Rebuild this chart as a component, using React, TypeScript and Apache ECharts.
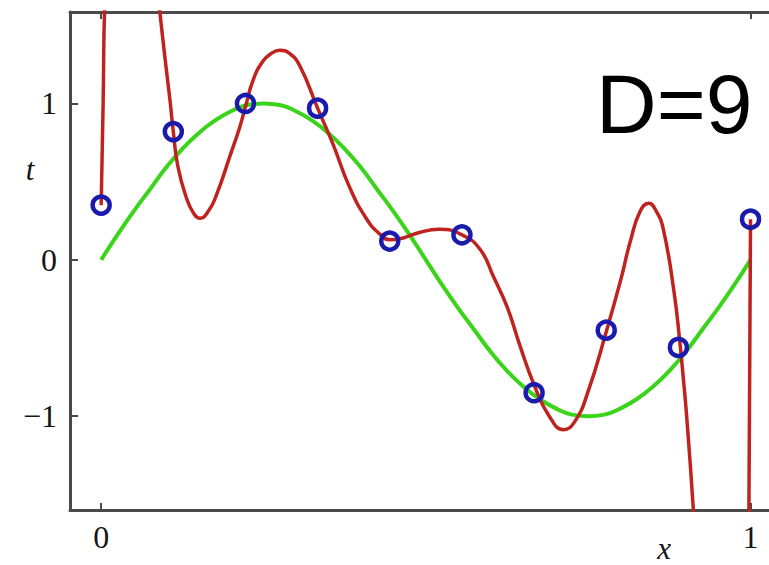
import React, { useEffect, useRef } from "react";
import * as echarts from "echarts";

// Observed targets t at the ten inputs x
const pointX = [0, 0.1111, 0.2222, 0.3333, 0.4444, 0.5556, 0.6667, 0.7778, 0.8889, 1.0];
const pointY = [0.35, 0.82, 1.0, 0.97, 0.12, 0.16, -0.85, -0.45, -0.56, 0.26];

// Underlying smooth curve
const greenX = [
  0, 0.025, 0.05, 0.075, 0.1, 0.125, 0.15, 0.175, 0.2, 0.225, 0.25, 0.275, 0.3, 0.325, 0.35, 0.375, 0.4, 0.425, 0.45, 0.475, 0.5,
  0.525, 0.55, 0.575, 0.6, 0.625, 0.65, 0.675, 0.7, 0.725, 0.75, 0.775, 0.8, 0.825, 0.85, 0.875, 0.9, 0.925, 0.95, 0.975, 1.0,
];
const greenY = [
  0, 0.16, 0.31, 0.45, 0.59, 0.71, 0.81, 0.89, 0.95, 0.99, 1.0, 0.99, 0.95, 0.89, 0.81, 0.71, 0.59, 0.45, 0.31, 0.16, 0,
  -0.16, -0.31, -0.45, -0.59, -0.71, -0.81, -0.89, -0.95, -0.99, -1.0, -0.99, -0.95, -0.89, -0.81, -0.71, -0.59, -0.45, -0.31, -0.16, 0,
];

// Degree-9 fitted curve (leaves the plot near both ends)
const redX = [
  0, 0.003, 0.006, 0.04, 0.09, 0.098, 0.106, 0.1111, 0.118, 0.131, 0.142, 0.152, 0.165, 0.178, 0.198, 0.2135, 0.2222, 0.234,
  0.249, 0.262, 0.275, 0.29, 0.306, 0.3333, 0.357, 0.383, 0.409, 0.429, 0.4444, 0.465, 0.49, 0.52, 0.5556, 0.584, 0.604, 0.625,
  0.645, 0.6667, 0.69, 0.712, 0.73, 0.75, 0.7778, 0.8, 0.815, 0.83, 0.843, 0.855, 0.866, 0.882, 0.891, 0.897, 0.902, 0.912,
  0.95, 0.9975, 1.0,
];
const redY = [
  0.35, 1.0, 1.7, 3.5, 1.6, 1.3, 1.02, 0.82, 0.6, 0.4, 0.3, 0.266, 0.31, 0.42, 0.66, 0.85, 0.98, 1.15,
  1.27, 1.32, 1.34, 1.32, 1.24, 0.97, 0.74, 0.46, 0.26, 0.165, 0.128, 0.14, 0.175, 0.195, 0.16, 0.064, -0.107, -0.3,
  -0.55, -0.8, -1.0, -1.086, -1.03, -0.84, -0.46, -0.13, 0.12, 0.31, 0.362, 0.31, 0.19, -0.2, -0.52, -0.78, -1.02, -1.6,
  -4.0, -1.6, 0.26,
];

const xTicks = [0, 1];
const yTicks = [-1, 0, 1];

const zip = (xs: number[], ys: number[]) => xs.map((x, i) => [x, ys[i]]);

const serif = "Liberation Serif";
const axisColor = "#4a4a4a";

export default function App() {
  const ref = useRef<HTMLDivElement>(null);

  useEffect(() => {
    if (!ref.current) return;
    const chart = echarts.init(ref.current, null, { renderer: "svg" });
    const fmt = (v: number) => (v < 0 ? "\u2212" + Math.abs(v) : String(v));
    const line = { show: true, onZero: false, lineStyle: { color: axisColor, width: 3 } };
    const tick = (vals: number[], len: number) => ({
      show: true,
      inside: true,
      length: len,
      customValues: vals,
      lineStyle: { color: axisColor, width: 2 },
    });
    const label = (vals: number[], margin: number) => ({
      show: true,
      customValues: vals,
      margin,
      fontFamily: serif,
      fontSize: 32,
      color: "#151515",
      formatter: fmt,
    });
    const baseX = { type: "value" as const, min: -0.048, max: 1.05, splitLine: { show: false }, axisLine: line };
    const baseY = { type: "value" as const, min: -1.6, max: 1.585, splitLine: { show: false }, axisLine: line };
    chart.setOption({
      animation: false,
      backgroundColor: "#ffffff",
      grid: { left: 70, top: 12, bottom: 55, right: 0 },
      xAxis: [
        { ...baseX, position: "bottom", axisTick: tick(xTicks, 7), axisLabel: label(xTicks, 11) },
        { ...baseX, position: "top", axisTick: tick(xTicks, 7), axisLabel: { show: false } },
      ],
      yAxis: [
        { ...baseY, position: "left", axisTick: tick(yTicks, 8), axisLabel: label(yTicks, 13) },
        { ...baseY, position: "right", axisTick: { show: false }, axisLabel: { show: false } },
      ],
      graphic: [
        {
          type: "text",
          x: 596,
          y: 104,
          style: {
            text: "D=9",
            fontFamily: "Liberation Sans",
            fontSize: 84,
            fill: "#000",
            textVerticalAlign: "middle",
          },
        },
        {
          type: "text",
          x: 30,
          y: 169,
          style: {
            text: "t",
            fontFamily: serif,
            fontStyle: "italic",
            fontSize: 31,
            fill: "#151515",
            textAlign: "center",
            textVerticalAlign: "middle",
          },
        },
        {
          type: "text",
          x: 664,
          y: 548,
          style: {
            text: "x",
            fontFamily: serif,
            fontStyle: "italic",
            fontSize: 31,
            fill: "#151515",
            textAlign: "center",
            textVerticalAlign: "middle",
          },
        },
      ],
      series: [
        {
          type: "line",
          data: zip(greenX, greenY),
          smooth: 0.5,
          showSymbol: false,
          clip: true,
          lineStyle: { color: "#3ad41a", width: 4 },
          z: 2,
        },
        {
          type: "line",
          data: zip(redX, redY),
          smooth: 0.5,
          showSymbol: false,
          clip: true,
          lineStyle: { color: "#bf231f", width: 3.5 },
          z: 3,
        },
        {
          type: "scatter",
          data: zip(pointX, pointY),
          symbol: "circle",
          symbolSize: 17,
          itemStyle: { color: "rgba(0,0,0,0)", borderColor: "#1a1aac", borderWidth: 4.5, opacity: 1 },
          z: 4,
        },
      ],
    });
    return () => chart.dispose();
  }, []);

  return (
    <div style={{ position: "fixed", left: 0, top: 0, width: 769, height: 565, overflow: "hidden", background: "#fff" }}>
      <div ref={ref} style={{ width: 783, height: 565 }} />
    </div>
  );
}
